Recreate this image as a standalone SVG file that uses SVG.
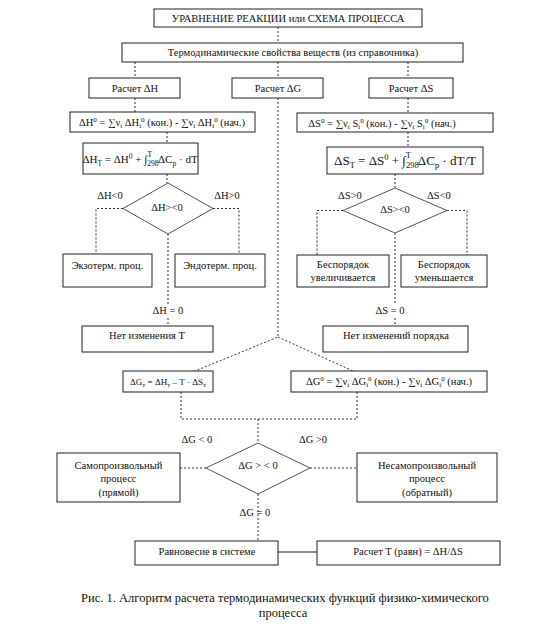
<svg xmlns="http://www.w3.org/2000/svg" width="554" height="629" viewBox="0 0 554 629">
<style>
text{font-family:"Liberation Serif","Times New Roman",Tinos,"Noto Serif","DejaVu Serif",FreeSerif,"Nimbus Roman",Times,serif;font-size:10.5px;fill:#111;text-anchor:middle}
.box{fill:#fff;stroke:#222;stroke-width:1}
.dia{fill:#fff;stroke:#555;stroke-width:1}
.dash{fill:none;stroke:#333;stroke-width:1;stroke-dasharray:2 2}
.solid{fill:none;stroke:#222;stroke-width:1}
.big{font-size:13px}
.mid{font-size:11px}
.sm{font-size:9px}
.s{font-size:7px}
.s2{font-size:8.5px}
.s3{font-size:7.5px}
.cap{font-size:12.5px}
</style>
<rect width="554" height="629" fill="#fff"/>
<g id="connectors">
<path class="dash" d="M278,27V43 M135,62V78 M278,62V78 M408,62V78 M135,98V112 M167,132V143 M167,174V183 M123,208.5H96V254 M213,208.5H239V254 M168,234V304 M168,318V326 M278,98V337 L195,371 M278,337 L353,371 M408,98V113 M408,132V147 M395,174V188 M343,210.5H317V255 M447,210.5H467V255 M395,233V303 M395,318V326 M181,392V419H357V392 M258,419V443 M180,468H206 M310,468H357 M258,494V541"/>
<path class="solid" d="M278,552H317"/>
</g>
<g id="n-top"><rect class="box" x="154" y="9" width="268" height="18"/><text x="288" y="22">УРАВНЕНИЕ РЕАКЦИИ или СХЕМА ПРОЦЕССА</text></g>
<g id="n-thermo"><rect class="box" x="122" y="43" width="341" height="19"/><text x="293" y="56">Термодинамические свойства веществ (из справочника)</text></g>
<g id="n-calcH"><rect class="box" x="89" y="78" width="91" height="20"/><text x="135" y="92">Расчет ΔH</text></g>
<g id="n-calcG"><rect class="box" x="232" y="78" width="91" height="20"/><text x="278" y="92">Расчет ΔG</text></g>
<g id="n-calcS"><rect class="box" x="369" y="78" width="84" height="20"/><text x="411" y="92">Расчет ΔS</text></g>
<g id="n-H0"><rect class="box" x="70" y="112" width="185" height="20"/><text x="162" y="126">ΔH<tspan class="s" dy="-4">0</tspan><tspan dy="4"> = ∑ν</tspan><tspan class="s" dy="2">i</tspan><tspan dy="-2"> ΔH</tspan><tspan class="s" dy="2">i</tspan><tspan class="s" dy="-6">0</tspan><tspan dy="4"> (кон.) - ∑ν</tspan><tspan class="s" dy="2">i</tspan><tspan dy="-2"> ΔH</tspan><tspan class="s" dy="2">i</tspan><tspan class="s" dy="-6">0</tspan><tspan dy="4"> (нач.)</tspan></text></g>
<g id="n-HT"><rect class="box" x="83" y="143" width="115" height="31"/><text class="mid" x="140" y="163">ΔH<tspan class="s3" dy="3">T</tspan><tspan dy="-3"> = ΔH</tspan><tspan class="s3" dy="-4">0</tspan><tspan dy="4"> + ∫</tspan><tspan class="s3" dy="3">298</tspan><tspan class="s3" dx="-11" dy="-9">T</tspan><tspan dx="6" dy="6">ΔC</tspan><tspan class="s3" dy="3">p</tspan><tspan dy="-3"> · dT</tspan></text></g>
<g id="n-S0"><rect class="box" x="297" y="113" width="196" height="19"/><text x="382" y="127">ΔS<tspan class="s" dy="-4">0</tspan><tspan dy="4"> = ∑ν</tspan><tspan class="s" dy="2">i</tspan><tspan dy="-2"> S</tspan><tspan class="s" dy="2">i</tspan><tspan class="s" dy="-6">0</tspan><tspan dy="4"> (кон.) - ∑ν</tspan><tspan class="s" dy="2">i</tspan><tspan dy="-2"> S</tspan><tspan class="s" dy="2">i</tspan><tspan class="s" dy="-6">0</tspan><tspan dy="4"> (нач.)</tspan></text></g>
<g id="n-ST"><rect class="box" x="327" y="147" width="156" height="27"/><text class="big" x="405" y="165">ΔS<tspan class="s2" dy="3">T</tspan><tspan dy="-3"> = ΔS</tspan><tspan class="s2" dy="-5">0</tspan><tspan dy="5"> + ∫</tspan><tspan class="s2" dy="3">298</tspan><tspan class="s2" dx="-13" dy="-10">T</tspan><tspan dx="7" dy="7">ΔC</tspan><tspan class="s2" dy="3">p</tspan><tspan dy="-3"> · dT/T</tspan></text></g>
<g id="n-dH"><polygon class="dia" points="168,183 213,208.5 168,234 123,208.5"/><text x="167" y="211">ΔH&gt;&lt;0</text></g>
<g id="n-dS"><polygon class="dia" points="395,188 447,210.5 395,233 343,210.5"/><text x="395" y="213">ΔS&gt;&lt;0</text></g>
<g id="n-exo"><rect class="box" x="63" y="254" width="89" height="33"/><text x="107.5" y="269">Экзотерм. проц.</text></g>
<g id="n-endo"><rect class="box" x="175" y="254" width="90" height="33"/><text x="220" y="269">Эндотерм. проц.</text></g>
<g id="n-sinc"><rect class="box" x="297" y="255" width="92" height="32"/><text x="343" y="268">Беспорядок</text><text x="343" y="281">увеличивается</text></g>
<g id="n-sdec"><rect class="box" x="401" y="255" width="86" height="32"/><text x="444" y="268">Беспорядок</text><text x="444" y="281">уменьшается</text></g>
<g id="n-noT"><rect class="box" x="82" y="326" width="131" height="26"/><text x="147" y="339">Нет изменения T</text></g>
<g id="n-noOrder"><rect class="box" x="323" y="326" width="145" height="26"/><text x="396" y="339">Нет изменений порядка</text></g>
<g id="n-GT"><rect class="box" x="123" y="371" width="90" height="21"/><text class="sm" x="168" y="385">ΔG<tspan class="s" dy="2">т</tspan><tspan dy="-2"> = ΔH</tspan><tspan class="s" dy="2">т</tspan><tspan dy="-2"> – T · ΔS</tspan><tspan class="s" dy="2">т</tspan></text></g>
<g id="n-G0"><rect class="box" x="291" y="371" width="196" height="21"/><text x="389" y="385">ΔG<tspan class="s" dy="-4">0</tspan><tspan dy="4"> = ∑ν</tspan><tspan class="s" dy="2">i</tspan><tspan dy="-2"> ΔG</tspan><tspan class="s" dy="2">i</tspan><tspan class="s" dy="-6">0</tspan><tspan dy="4"> (кон.) - ∑ν</tspan><tspan class="s" dy="2">i</tspan><tspan dy="-2"> ΔG</tspan><tspan class="s" dy="2">i</tspan><tspan class="s" dy="-6">0</tspan><tspan dy="4"> (нач.)</tspan></text></g>
<g id="n-dG"><polygon class="dia" points="258,443 310,468 258,494 206,468"/><text x="258" y="469">ΔG &gt; &lt; 0</text></g>
<g id="n-spont"><rect class="box" x="57" y="453" width="123" height="49"/><text x="118.5" y="469">Самопроизвольный</text><text x="118.5" y="482">процесс</text><text x="118.5" y="496">(прямой)</text></g>
<g id="n-nonspont"><rect class="box" x="357" y="453" width="140" height="49"/><text x="427" y="469">Несамопроизвольный</text><text x="427" y="482">процесс</text><text x="427" y="496">(обратный)</text></g>
<g id="n-eq"><rect class="box" x="135" y="541" width="143" height="24"/><text x="207" y="555">Равновесие в системе</text></g>
<g id="n-Teq"><rect class="box" x="317" y="541" width="183" height="24"/><text x="408" y="555">Расчет T (равн) = ΔH/ΔS</text></g>
<g id="labels">
<text x="110" y="199">ΔH&lt;0</text>
<text x="227" y="199">ΔH&gt;0</text>
<text x="350" y="199">ΔS&gt;0</text>
<text x="439" y="199">ΔS&lt;0</text>
<text x="168" y="314">ΔH = 0</text>
<text x="390" y="314">ΔS = 0</text>
<text x="197" y="443">ΔG &lt; 0</text>
<text x="313" y="443">ΔG &gt;0</text>
<text x="255" y="516">ΔG = 0</text>
</g>
<g id="caption">
<text class="cap" x="285" y="602">Рис. 1. Алгоритм расчета термодинамических функций физико-химического</text>
<text class="cap" x="283" y="617">процесса</text>
</g>
</svg>
